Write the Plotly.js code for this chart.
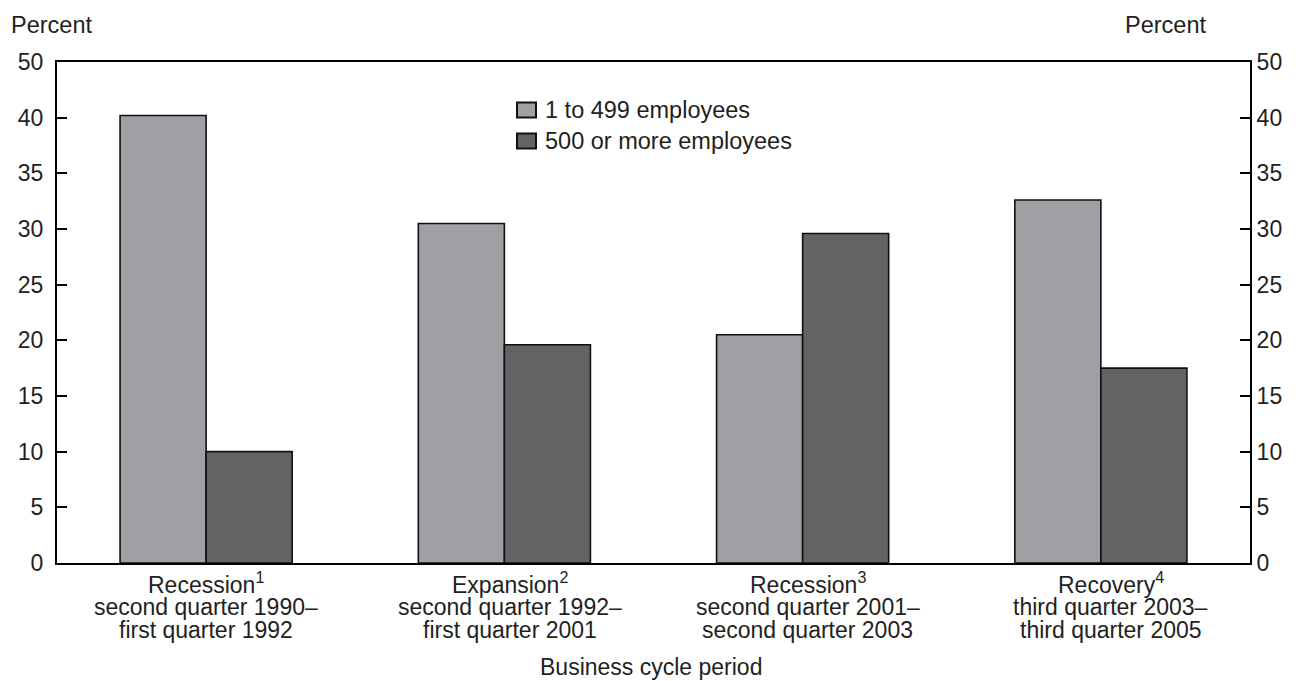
<!DOCTYPE html>
<html>
<head>
<meta charset="utf-8">
<script src="https://cdn.plot.ly/plotly-3.0.1.min.js"></script>
<style>html,body{margin:0;padding:0;background:#fff;}#chart{width:1296px;height:681px;}</style>
</head>
<body>
<div id="chart"></div>
<script>
const categories = ["Recession<sup>1</sup>", "Expansion<sup>2</sup>", "Recession<sup>3</sup>", "Recovery<sup>4</sup>"];
const periodStart = ["second quarter 1990–", "second quarter 1992–", "second quarter 2001–", "third quarter 2003–"];
const periodEnd = ["first quarter 1992", "first quarter 2001", "second quarter 2003", "third quarter 2005"];
const seriesNames = ["1 to 499 employees", "500 or more employees"];
const small = [40.2, 30.5, 20.5, 32.6];
const large = [10.0, 19.6, 29.6, 17.5];
const tickVals = [0, 5, 10, 15, 20, 25, 30, 35, 40, 45];
const tickText = ["0", "5", "10", "15", "20", "25", "30", "35", "40", "50"];
const xTitle = "Business cycle period";
const yTitle = "Percent";

const colors = ["#9fa0a4", "#636365"];
const txt = "#231f20";
const fam = "Liberation Sans, Arial, sans-serif";
const F = (s) => ({family: fam, size: s, color: txt});

const traces = [
  {type: "bar", x: categories, y: small, name: seriesNames[0], showlegend: false,
   marker: {color: colors[0], line: {color: "#111", width: 1.6}}},
  {type: "bar", x: categories, y: large, name: seriesNames[1], showlegend: false,
   marker: {color: colors[1], line: {color: "#111", width: 1.6}}},
  {type: "scatter", x: categories, y: small, yaxis: "y2", mode: "none",
   showlegend: false, hoverinfo: "skip"}
];
const yCommon = {
  range: [0, 45], tickmode: "array", tickvals: tickVals, ticktext: tickText,
  ticks: "inside", ticklen: 10, tickwidth: 2, tickcolor: "#000",
  showline: true, linecolor: "#000", linewidth: 2, showgrid: false, zeroline: false,
  tickfont: F(23), fixedrange: true
};

const labelXShift = [0, 6, 5, 10];
const lineYShift = [-20, -43.5, -67];
const annotations = [];
categories.forEach((c, i) => {
  const lines = [c, periodStart[i], periodEnd[i]];
  lines.forEach((t, j) => {
    annotations.push({text: t, xref: "x", yref: "paper", x: c, y: 0,
      yanchor: "middle", xanchor: "center", yshift: lineYShift[j], xshift: labelXShift[i],
      showarrow: false, font: F(23)});
  });
});
annotations.push({text: xTitle, xref: "paper", yref: "paper", x: 0.5, y: 0,
  yanchor: "middle", xanchor: "center", yshift: -104, xshift: -3, showarrow: false, font: F(23)});
annotations.push({text: yTitle, xref: "paper", yref: "paper", x: 0, y: 1, xanchor: "left",
  yanchor: "middle", xshift: -48, yshift: 37, showarrow: false, font: F(23.5)});
annotations.push({text: yTitle, xref: "paper", yref: "paper", x: 1, y: 1, xanchor: "right",
  yanchor: "middle", xshift: -42, yshift: 37, showarrow: false, font: F(23.5)});

// manual legend
const shapes = [];
const legendRows = [110, 141];
seriesNames.forEach((n, i) => {
  const yc = 1 - (legendRows[i] - 62) / 501;
  shapes.push({type: "rect", xref: "paper", yref: "paper",
    xsizemode: "pixel", ysizemode: "pixel", xanchor: (517 - 57) / 1193, yanchor: yc,
    x0: 0, x1: 19, y0: -7.5, y1: 7.5,
    fillcolor: colors[i], line: {color: "#111", width: 2}});
  annotations.push({text: n, xref: "paper", yref: "paper", x: (543 - 57) / 1193, y: yc,
    xanchor: "left", yanchor: "middle", showarrow: false, font: F(23.5)});
});

const layout = {
  width: 1296, height: 681,
  margin: {l: 57, r: 46, t: 62, b: 118},
  paper_bgcolor: "#fff", plot_bgcolor: "#fff",
  font: F(23),
  barmode: "group", bargap: 0.423, bargroupgap: 0,
  showlegend: false,
  xaxis: {showline: true, linecolor: "#000", linewidth: 2, mirror: true, ticks: "",
          showticklabels: false, showgrid: false, fixedrange: true},
  yaxis: Object.assign({side: "left", ticklabelstandoff: 7}, yCommon),
  yaxis2: Object.assign({side: "right", overlaying: "y", ticklabelstandoff: 0}, yCommon),
  annotations: annotations,
  shapes: shapes
};
Plotly.newPlot("chart", traces, layout, {displayModeBar: false, staticPlot: true});
</script>
</body>
</html>
